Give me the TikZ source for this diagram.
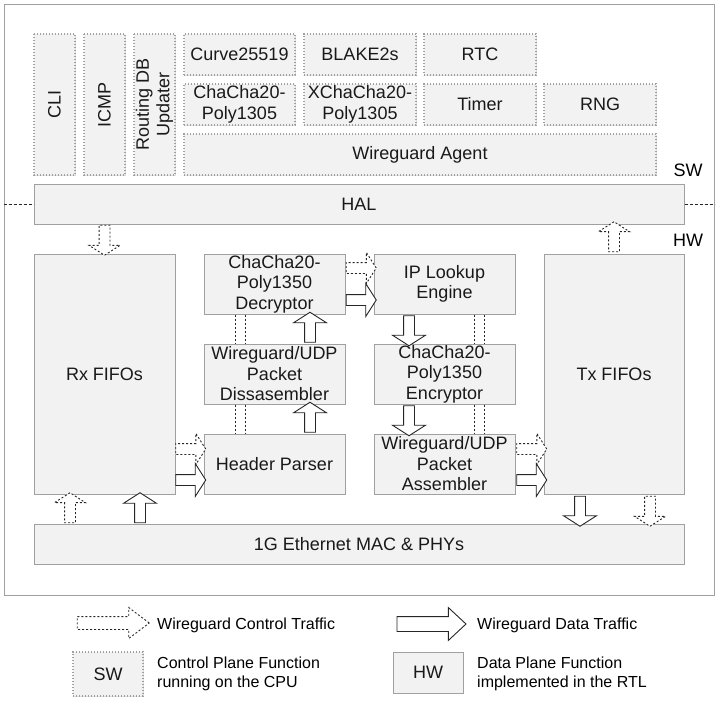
\documentclass[tikz,border=0pt]{standalone}
\usepackage{fontspec}
\setmainfont{Liberation Sans}
\usetikzlibrary{shapes.arrows,calc,shadows}
\definecolor{boxfill}{HTML}{F2F2F2}
\definecolor{boxline}{HTML}{A0A0A0}
\begin{document}
\begin{tikzpicture}[x=1pt, y=-1pt,
  font=\fontsize{18}{20.5}\selectfont,
  box/.style={fill=boxfill, draw=boxline, line width=1pt, inner sep=0pt, align=center, text=black!90,
    drop shadow={shadow xshift=1.2pt, shadow yshift=-1.2pt, opacity=0.25}},
  sw/.style={box, line width=1.4pt, dash pattern=on 1.4pt off 1.6pt},
  data/.style={single arrow, draw=black!85, fill=white, line width=0.9pt, inner sep=5pt,
    minimum height=30pt, minimum width=32pt, single arrow head extend=11pt, single arrow tip angle=115},
  ctrl/.style={data, dash pattern=on 2pt off 2pt, minimum width=30pt, single arrow head extend=10pt},
  cline/.style={black!85, line width=0.9pt, dash pattern=on 2pt off 2pt},
  divider/.style={black!85, line width=0.8pt, dash pattern=on 3pt off 2pt},
  legend/.style={font=\fontsize{16}{19}\selectfont, anchor=west, align=left, inner sep=0pt}]
\useasboundingbox (0,0) rectangle (725,702);

\node[draw=boxline, fill=white, line width=1pt, minimum width=710pt, minimum height=591pt,
  drop shadow={shadow xshift=1.2pt, shadow yshift=-1.2pt, opacity=0.25}] (sys) at (359,299.5) {};

% control plane (SW)
\node[sw, rotate=90, minimum width=141pt, minimum height=41pt] (cli) at (54.5,104.5) {CLI};
\node[sw, rotate=90, minimum width=141pt, minimum height=41pt] (icmp) at (104.5,104.5) {ICMP};
\node[sw, rotate=90, minimum width=141pt, minimum height=41pt] (rdb) at (154.5,104.5) {Routing DB\\Updater};
\node[sw, minimum width=111pt, minimum height=41pt] (curve) at (239.5,54.5) {Curve25519};
\node[sw, minimum width=112pt, minimum height=41pt] (blake) at (360,54.5) {BLAKE2s};
\node[sw, minimum width=112pt, minimum height=41pt] (rtc) at (480,54.5) {RTC};
\node[sw, minimum width=111pt, minimum height=41pt] (chacha) at (239.5,104.5) {ChaCha20-\\Poly1305};
\node[sw, minimum width=112pt, minimum height=41pt] (xchacha) at (360,104.5) {XChaCha20-\\Poly1305};
\node[sw, minimum width=112pt, minimum height=41pt] (timer) at (480,104.5) {Timer};
\node[sw, minimum width=112pt, minimum height=41pt] (rng) at (600,104.5) {RNG};
\node[sw, minimum width=472pt, minimum height=41pt] (agent) at (420,154.5) {Wireguard Agent};

\node[box, minimum width=650pt, minimum height=40pt] (hal) at (359,204) {HAL};
\node (swl) at (688,170) {SW};
\node (hwl) at (688,240) {HW};
\draw[divider] (sys.west |- hal.west) -- (hal.west);
\draw[divider] (hal.east) -- (sys.east |- hal.east);

% data plane (HW)
\node[box, minimum width=141pt, minimum height=240pt] (rx) at (104.5,374) {Rx FIFOs};
\node[box, minimum width=141pt, minimum height=60pt] (dec) at (274.5,284) {ChaCha20-\\Poly1350\\Decryptor};
\node[box, minimum width=141pt, minimum height=60pt] (dis) at (274.5,374) {Wireguard/UDP\\Packet\\Dissasembler};
\node[box, minimum width=141pt, minimum height=60pt] (hp) at (274.5,464) {Header Parser};
\node[box, minimum width=141pt, minimum height=60pt] (ipl) at (444.5,284) {IP Lookup\\Engine};
\node[box, minimum width=141pt, minimum height=60pt] (enc) at (444.5,374) {ChaCha20-\\Poly1350\\Encryptor};
\node[box, minimum width=141pt, minimum height=60pt] (asm) at (444.5,464) {Wireguard/UDP\\Packet\\Assembler};
\node[box, minimum width=140pt, minimum height=240pt] (tx) at (614,374) {Tx FIFOs};
\node[box, minimum width=650pt, minimum height=40pt] (eth) at (359,544) {1G Ethernet MAC \& PHYs};

% traffic
\node[ctrl, rotate=-90] (c1) at ($(rx.north)+(0,-15)$) {};
\node[ctrl, rotate=90] (c2) at ($(tx.north)+(0,-15)$) {};
\node[ctrl] (c3) at ($(dec.east)!.5!(ipl.west)+(0,-16)$) {};
\node[data] (d3) at ($(dec.east)!.5!(ipl.west)+(0,16)$) {};
\node[data, rotate=90] (d4) at ($(dis.north)!.5!(dec.south)+(35.5,0)$) {};
\node[data, rotate=90] (d5) at ($(hp.north)!.5!(dis.south)+(35.5,0)$) {};
\node[data, rotate=-90] (d6) at ($(ipl.south)!.5!(enc.north)+(-35.5,0)$) {};
\node[data, rotate=-90] (d7) at ($(enc.south)!.5!(asm.north)+(-35.5,0)$) {};
\foreach \a/\b in {dec/dis, dis/hp} {
  \draw[cline] ($(\a.south)+(-39.5,0)$) -- ($(\b.north)+(-39.5,0)$);
  \draw[cline] ($(\a.south)+(-29.5,0)$) -- ($(\b.north)+(-29.5,0)$);
}
\foreach \a/\b in {ipl/enc, enc/asm} {
  \draw[cline] ($(\a.south)+(29.5,0)$) -- ($(\b.north)+(29.5,0)$);
  \draw[cline] ($(\a.south)+(39.5,0)$) -- ($(\b.north)+(39.5,0)$);
}
\node[ctrl] (c8) at ($(hp.west)+(-14.5,-15)$) {};
\node[data] (d8) at ($(hp.west)+(-14.5,16)$) {};
\node[ctrl] (c9) at ($(asm.east)+(14.5,-15)$) {};
\node[data] (d9) at ($(asm.east)+(14.5,16)$) {};
\node[ctrl, rotate=90] (c10) at ($(rx.south)+(-34.5,15)$) {};
\node[data, rotate=90] (d10) at ($(rx.south)+(35.5,15)$) {};
\node[data, rotate=-90] (d11) at ($(tx.south)+(-34,15)$) {};
\node[ctrl, rotate=-90] (c11) at ($(tx.south)+(36,15)$) {};

% legend
\node[ctrl, inner sep=6pt, minimum height=72pt, minimum width=30pt, single arrow head extend=9pt, single arrow tip angle=74] (lc) at (109,623) {};
\node[legend] (lct) at (157,625) {Wireguard Control Traffic};
\node[data, inner sep=7pt, minimum height=69pt, minimum width=32pt, single arrow head extend=9pt, single arrow tip angle=86] (ld) at (427.5,624) {};
\node[legend] (ldt) at (477,625) {Wireguard Data Traffic};
\node[sw, minimum width=70pt, minimum height=44pt] (lsw) at (108,674) {SW};
\node[legend] (lswt) at (157,674) {Control Plane Function\\running on the CPU};
\node[box, minimum width=70pt, minimum height=41pt] (lhw) at (428,672.5) {HW};
\node[legend] (lhwt) at (477,674) {Data Plane Function\\implemented in the RTL};
\end{tikzpicture}
\end{document}
